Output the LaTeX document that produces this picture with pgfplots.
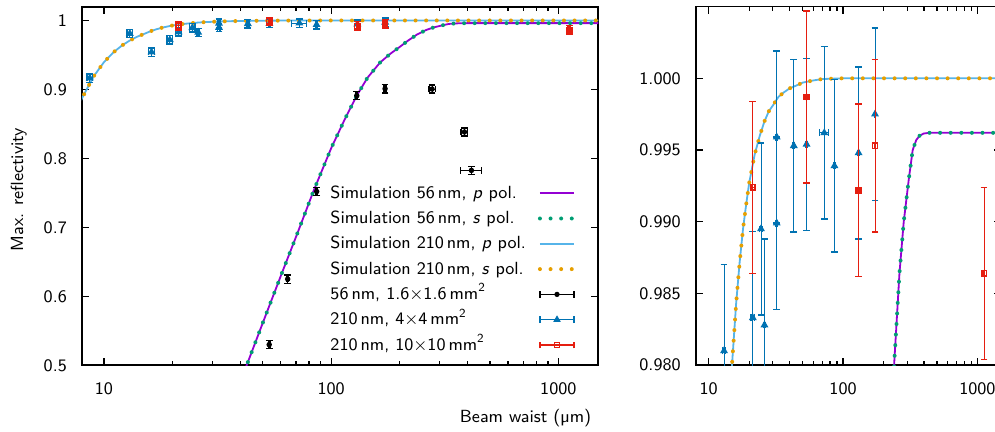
\documentclass[border=0pt]{standalone}
\usepackage{fontspec}
\usepackage{pgfplots}
\pgfplotsset{compat=1.18}
\usepackage{pgfplotstable}

\definecolor{simpurple}{HTML}{9400D3}
\definecolor{simgreen}{HTML}{009E73}
\definecolor{simlblue}{HTML}{56B4E9}
\definecolor{simorange}{HTML}{E69F00}
\definecolor{datblue}{HTML}{0072B2}
\definecolor{datred}{HTML}{E51E10}

% simulation, 56 nm layer
\pgfplotstableread{
x y
39.8 0.476
42.5 0.500
50.1 0.562
61.6 0.639
70.8 0.690
83.5 0.752
100 0.8146
114.8 0.8566
129.7 0.891
144.5 0.9169
164.1 0.9389
182 0.9516
200.9 0.9619
218.8 0.9712
239.9 0.980
263 0.9864
283.1 0.990
309 0.993
330 0.995
350.8 0.9957
371.5 0.9960
398 0.99615
436.5 0.9962
1500 0.9962
}\simA

% simulation, 210 nm layer
\pgfplotstableread{
x y
7.5 0.865
8 0.887
9 0.9187
10 0.9395
11 0.9537
12 0.9637
13 0.9710
14 0.9764
15 0.9804
16 0.9843
17 0.9872
18 0.9895
19 0.9912
20 0.9927
22 0.9947
24 0.9960
26 0.9970
28 0.9977
30 0.9981
33 0.9987
36 0.9990
40 0.9993
45 0.9995
50 0.9997
60 0.99985
70 0.99995
100 1.0000
1500 1.0000
}\simB

% measurements
\pgfplotstableread{
x y ex ey
53.4 0.530 0.5 0.006
64.4 0.625 0.6 0.006
86.4 0.752 0.8 0.006
129.7 0.891 1.3 0.006
172.8 0.901 1.7 0.006
278.2 0.9006 9 0.006
386.2 0.8383 13 0.006
414.6 0.7826 44 0.006
}\datA

\pgfplotstableread{
x y ex ey
8.67 0.9165 0.25 0.006
13.0 0.9810 0.35 0.006
16.2 0.9542 0.45 0.006
19.5 0.9720 0.55 0.006
21.3 0.9833 0.6 0.006
24.5 0.9895 0.7 0.006
26.0 0.9828 0.3 0.006
32.1 0.9959 0.5 0.006
32.1 0.9899 0.5 0.006
43.0 0.9953 0.5 0.006
53.5 0.9954 0.6 0.006
72.5 0.9962 5.5 0.006
86.3 0.9939 1.0 0.006
130.5 0.9948 1.5 0.006
173.0 0.9975 2.0 0.006
}\datB

\pgfplotstableread{
x y ex ey
21.3 0.9924 0.6 0.006
53.5 0.9987 0.6 0.006
130.5 0.9922 1.5 0.006
173.0 0.9953 2.0 0.006
1120 0.9864 15 0.006
}\datC

% legend icon for the measurements: |--o--|
\newcommand\datlegend[3]{%
  \draw[#1, line width=0.7pt] (0cm,0cm) -- (0.6cm,0cm)
    (0cm,-1.7pt) -- (0cm,1.7pt) (0.6cm,-1.7pt) -- (0.6cm,1.7pt);
  \draw[#1, line width=0.6pt, mark=#2, mark size=#3] plot coordinates {(0.3cm,0cm)};}

\begin{document}
\begin{tikzpicture}
% the page is this box; the right panel runs past its right edge
\useasboundingbox (0,0) rectangle (497.5pt,216pt);

\begin{axis}[at={(40.95pt,33.35pt)}, anchor=south west,
  xmode=log, scale only axis, width=258.2pt, height=179.3pt,
  xmin=8, xmax=1500, ymin=0.5, ymax=1.02,
  xtick={10,100,1000}, xticklabels={10,100,1000},
  ytick={0.5,0.6,0.7,0.8,0.9,1}, yticklabels={0.5,0.6,0.7,0.8,0.9,1},
  tick align=inside, major tick length=3.5pt, minor tick length=2pt,
  axis line style={line width=0.9pt},
  tick style={black, line width=0.6pt},
  font=\sffamily\fontsize{8.8}{10.6}\selectfont,
  xticklabel style={yshift=-5pt}, yticklabel style={xshift=-4pt},
  clip marker paths=true,
  xlabel={Beam waist (µm)}, ylabel={Max. reflectivity},
  xlabel style={at={(axis description cs:1,-0.148)}, anchor=east},
  ylabel style={at={(axis description cs:-0.1224,0.49)}, anchor=center},
  legend plot pos=right, legend cell align=left,
  legend style={draw=none, fill=none, at={(axis description cs:0.957,0.0315)},
    anchor=south east, inner sep=0pt, outer sep=0pt, row sep=3.65pt,
    column sep=6pt, nodes={inner sep=0pt, text height=7pt, text depth=2pt}},
]
\addplot[no marks, line width=0.9pt, simpurple] table {\simA};
\addlegendentry{Simulation 56\,nm, \textit{p} pol.}
\addplot[no marks, line width=2pt, line cap=round, dash pattern=on 0pt off 5.3pt, simgreen] table {\simA};
\addlegendentry{Simulation 56\,nm, \textit{s} pol.}
\addplot[no marks, line width=0.9pt, simlblue] table {\simB};
\addlegendentry{Simulation 210\,nm, \textit{p} pol.}
\addplot[no marks, line width=2pt, line cap=round, dash pattern=on 0pt off 5.3pt, simorange] table {\simB};
\addlegendentry{Simulation 210\,nm, \textit{s} pol.}

\addlegendimage{legend image code/.code={\datlegend{black}{*}{1pt}}}
\addlegendentry{56\,nm, 1.6×1.6\,mm\textsuperscript{2}}
\addlegendimage{legend image code/.code={\datlegend{datblue}{triangle*}{1.6pt}}}
\addlegendentry{210\,nm, 4×4\,mm\textsuperscript{2}}
\addlegendimage{legend image code/.code={\datlegend{datred}{square}{1.3pt}}}
\addlegendentry{210\,nm, 10×10\,mm\textsuperscript{2}}

\addplot[only marks, black, mark=*, mark size=1pt, line width=0.7pt, forget plot,
  error bars/.cd, x dir=both, x explicit, y dir=both, y explicit,
  error mark=|, error mark options={mark size=1.7pt, line width=0.7pt}]
  table[x=x, y=y, x error=ex, y error=ey] {\datA};
\addplot[only marks, datblue, mark=triangle*, mark size=1.6pt, line width=0.7pt, forget plot,
  error bars/.cd, x dir=both, x explicit, y dir=both, y explicit,
  error mark=|, error mark options={mark size=1.7pt, line width=0.7pt}]
  table[x=x, y=y, x error=ex, y error=ey] {\datB};
\addplot[only marks, datred, mark=square, mark size=1.3pt, line width=0.7pt, forget plot,
  error bars/.cd, x dir=both, x explicit, y dir=both, y explicit,
  error mark=|, error mark options={mark size=1.7pt, line width=0.7pt}]
  table[x=x, y=y, x error=ex, y error=ey] {\datC};
\end{axis}

\begin{axis}[at={(347.85pt,33.35pt)}, anchor=south west,
  xmode=log, scale only axis, width=152.65pt, height=179.3pt,
  xmin=8, xmax=1500, ymin=0.98, ymax=1.005,
  xtick={10,100,1000}, xticklabels={10,100,1000},
  ytick={0.98,0.985,0.99,0.995,1}, yticklabels={0.980,0.985,0.990,0.995,1.000},
  tick align=inside, major tick length=3.5pt, minor tick length=2pt,
  axis line style={line width=0.9pt},
  tick style={black, line width=0.6pt},
  font=\sffamily\fontsize{8.8}{10.6}\selectfont,
  xticklabel style={yshift=-5pt}, yticklabel style={xshift=-4pt},
  clip marker paths=true,
]
\addplot[no marks, line width=0.9pt, simpurple] table {\simA};
\addplot[no marks, line width=2pt, line cap=round, dash pattern=on 0pt off 5.3pt, simgreen] table {\simA};
\addplot[no marks, line width=0.9pt, simlblue] table {\simB};
\addplot[no marks, line width=2pt, line cap=round, dash pattern=on 0pt off 5.3pt, simorange] table {\simB};
\addplot[only marks, black, mark=*, mark size=1pt, line width=0.7pt,
  error bars/.cd, x dir=both, x explicit, y dir=both, y explicit,
  error mark=|, error mark options={mark size=1.7pt, line width=0.7pt}]
  table[x=x, y=y, x error=ex, y error=ey] {\datA};
\addplot[only marks, datblue, mark=triangle*, mark size=1.6pt, line width=0.7pt,
  error bars/.cd, x dir=both, x explicit, y dir=both, y explicit,
  error mark=|, error mark options={mark size=1.7pt, line width=0.7pt}]
  table[x=x, y=y, x error=ex, y error=ey] {\datB};
\addplot[only marks, datred, mark=square, mark size=1.3pt, line width=0.7pt,
  error bars/.cd, x dir=both, x explicit, y dir=both, y explicit,
  error mark=|, error mark options={mark size=1.7pt, line width=0.7pt}]
  table[x=x, y=y, x error=ex, y error=ey] {\datC};
\end{axis}
\end{tikzpicture}
\end{document}
